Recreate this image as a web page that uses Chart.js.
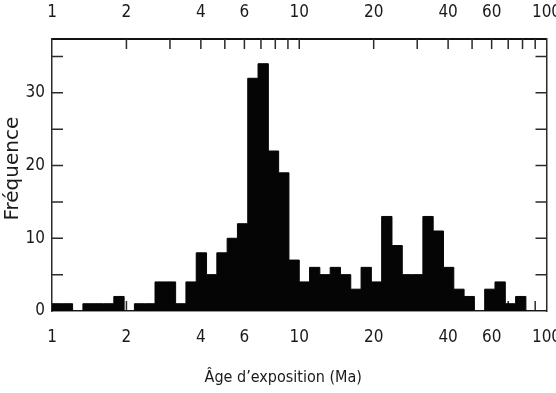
<!DOCTYPE html>
<html>
<head>
<meta charset="utf-8">
<script src="https://cdn.jsdelivr.net/npm/chart.js@4/dist/chart.umd.min.js"></script>
<style>
  html, body { margin: 0; padding: 0; background: #fff; }
  #wrap { width: 556px; height: 393px; }
</style>
</head>
<body>
<div id="wrap"><canvas id="histo" width="556" height="393"></canvas></div>
<script>
// histogram: 24 log-bins per decade from 1 to 100 Ma
const binsPerDecade = 24;
const counts = [
  1, 1, 0, 1, 1, 1, 2, 0, 1, 1, 4, 4, 1, 4, 8, 5, 8, 10, 12, 32, 34, 22, 19, 7,
  4, 6, 5, 6, 5, 3, 6, 4, 13, 9, 5, 5, 13, 11, 6, 3, 2, 0, 3, 4, 1, 2, 0, 0
];
const xTickValues = [1, 2, 3, 4, 5, 6, 7, 8, 9, 10, 20, 30, 40, 50, 60, 70, 80, 90, 100];
const xLabelValues = [1, 2, 4, 6, 10, 20, 40, 60, 100];
const yTickValues = [0, 5, 10, 15, 20, 25, 30, 35];
const yLabelValues = [0, 10, 20, 30];

const ink = "#050505";
const axisColor = "#2b2b2b";
const narrow = "'Liberation Sans Narrow', 'DejaVu Sans Condensed', 'Liberation Sans', sans-serif";
const tickFont = { family: narrow, size: 17 };

// bin i spans [10^(i/24), 10^((i+1)/24)); last point closes the final bin
const points = counts.map((c, i) => ({ x: Math.pow(10, i / binsPerDecade), y: c }));
points.push({ x: Math.pow(10, counts.length / binsPerDecade), y: counts[counts.length - 1] });

const fixTicks = (scale) => { scale.ticks = xTickValues.map((v) => ({ value: v })); };
const xLabel = (v) => (xLabelValues.includes(v) ? String(v) : "");
const noSidePad = (h) => (s) => { s.height = h; s.paddingLeft = 0; s.paddingRight = 0; };

// tick marks pointing into the plot, drawn under the bars
const insideTicks = {
  id: "insideTicks",
  beforeDatasetsDraw(chart) {
    const { ctx, chartArea: a, scales } = chart;
    ctx.save();
    ctx.strokeStyle = axisColor;
    ctx.lineWidth = 1.5;
    ctx.beginPath();
    xTickValues.slice(1, -1).forEach((v) => {
      const px = scales.x.getPixelForValue(v);
      ctx.moveTo(px, a.bottom);
      ctx.lineTo(px, a.bottom - 10);
      ctx.moveTo(px, a.top);
      ctx.lineTo(px, a.top + 10);
    });
    yTickValues.slice(1).forEach((v) => {
      const py = scales.y.getPixelForValue(v);
      ctx.moveTo(a.left, py);
      ctx.lineTo(a.left + 11, py);
      ctx.moveTo(a.right, py);
      ctx.lineTo(a.right - 11, py);
    });
    ctx.stroke();
    ctx.restore();
  }
};

new Chart(document.getElementById("histo"), {
  type: "line",
  data: {
    datasets: [{
      data: points,
      stepped: "before",
      fill: "origin",
      backgroundColor: ink,
      borderColor: ink,
      borderWidth: 1,
      pointRadius: 0
    }]
  },
  options: {
    responsive: false,
    animation: false,
    layout: { padding: 0 },
    plugins: { legend: { display: false }, tooltip: { enabled: false } },
    scales: {
      x: {
        type: "logarithmic",
        position: "bottom",
        min: 1,
        max: 100,
        afterBuildTicks: fixTicks,
        afterFit: noSidePad(82),
        grid: { drawOnChartArea: false, drawTicks: false },
        border: { display: true, color: axisColor, width: 1.5 },
        ticks: { autoSkip: false, maxRotation: 0, padding: 16, color: "#1a1a1a", font: tickFont, callback: xLabel },
        title: {
          display: true,
          text: "Âge d\u2019exposition (Ma)" + "\u00a0".repeat(7),
          color: "#1a1a1a",
          font: { family: narrow, size: 16 },
          padding: { top: 0, bottom: 6 }
        }
      },
      x2: {
        axis: "x",
        type: "logarithmic",
        position: "top",
        min: 1,
        max: 100,
        afterBuildTicks: fixTicks,
        afterFit: noSidePad(39),
        grid: { drawOnChartArea: false, drawTicks: false },
        border: { display: true, color: "#111", width: 2 },
        ticks: { autoSkip: false, maxRotation: 0, padding: 16, color: "#1a1a1a", font: tickFont, callback: xLabel }
      },
      y: {
        position: "left",
        min: 0,
        max: 37.4,
        afterBuildTicks: (s) => { s.ticks = yTickValues.map((v) => ({ value: v })); },
        afterFit: (s) => { s.width = 52; },
        grid: { drawOnChartArea: false, drawTicks: false },
        border: { display: true, color: axisColor, width: 1.5 },
        ticks: {
          padding: 7,
          color: "#1a1a1a",
          font: tickFont,
          callback: (v) => (yLabelValues.includes(v) ? String(v) : "")
        },
        title: {
          display: true,
          text: "\u00a0\u00a0Fréquence",
          color: "#1a1a1a",
          font: { family: "'DejaVu Sans', sans-serif", size: 20 },
          padding: { top: 1, bottom: 0 }
        }
      },
      y2: {
        axis: "y",
        position: "right",
        min: 0,
        max: 37.4,
        afterFit: (s) => { s.width = 9.5; },
        grid: { drawOnChartArea: false, drawTicks: false },
        border: { display: true, color: axisColor, width: 1.5 },
        ticks: { display: false }
      }
    }
  },
  plugins: [insideTicks]
});
</script>
</body>
</html>
